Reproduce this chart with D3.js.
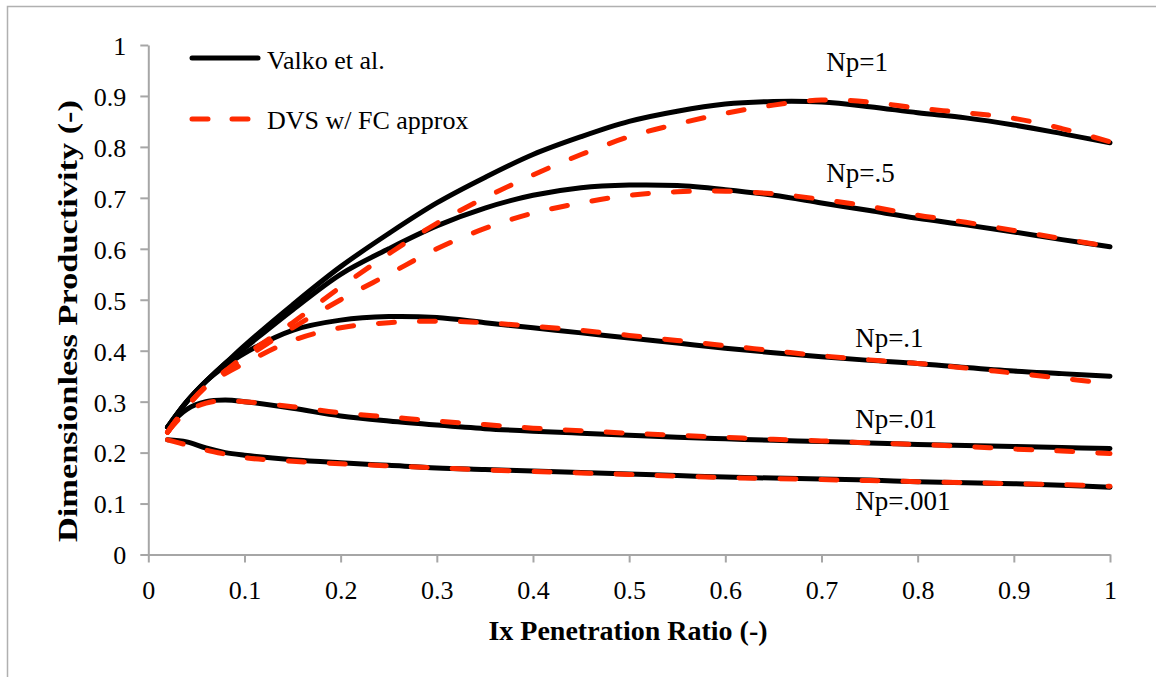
<!DOCTYPE html>
<html>
<head>
<meta charset="utf-8">
<script src="https://cdn.jsdelivr.net/npm/d3@7"></script>
<style>
  body { margin: 0; background: #fff; }
  text { font-family: "Liberation Serif", "Times New Roman", serif; fill: #000; }
</style>
</head>
<body>
<script>
var svgWidth = 1156;
var svgHeight = 677;

// x values shared by every curve
var xValues = [0.02, 0.04, 0.06, 0.08, 0.1, 0.15, 0.2, 0.25, 0.3, 0.35, 0.4, 0.45, 0.5,
               0.55, 0.6, 0.65, 0.7, 0.75, 0.8, 0.85, 0.9, 0.95, 1.0];

// Valko et al. (solid black)
var valkoNp1   = [0.25, 0.30, 0.34, 0.375, 0.41, 0.49, 0.565, 0.63, 0.69, 0.74, 0.785, 0.82, 0.85,
                  0.87, 0.884, 0.889, 0.888, 0.879, 0.867, 0.857, 0.843, 0.826, 0.808];
var valkoNp05  = [0.25, 0.30, 0.34, 0.375, 0.405, 0.48, 0.55, 0.60, 0.645, 0.68, 0.705, 0.72, 0.725,
                  0.724, 0.716, 0.705, 0.69, 0.675, 0.66, 0.647, 0.633, 0.618, 0.604];
var valkoNp01  = [0.25, 0.30, 0.34, 0.37, 0.395, 0.44, 0.46, 0.467, 0.465, 0.455, 0.445, 0.435, 0.425,
                  0.415, 0.405, 0.396, 0.388, 0.381, 0.375, 0.367, 0.36, 0.355, 0.35];
var valkoNp001 = [0.25, 0.285, 0.30, 0.303, 0.30, 0.287, 0.272, 0.262, 0.254, 0.247, 0.242, 0.238, 0.234,
                  0.23, 0.227, 0.224, 0.222, 0.219, 0.216, 0.214, 0.212, 0.21, 0.208];
var valkoNp0001 = [0.225, 0.221, 0.209, 0.2, 0.195, 0.186, 0.18, 0.175, 0.17, 0.167, 0.164, 0.161, 0.158,
                   0.155, 0.152, 0.15, 0.148, 0.146, 0.143, 0.141, 0.139, 0.136, 0.132];

// DVS w/ FC approx (red dashed)
var dvsNp1   = [0.24, 0.29, 0.33, 0.36, 0.39, 0.455, 0.525, 0.59, 0.65, 0.70, 0.745, 0.785, 0.82,
                0.845, 0.866, 0.882, 0.892, 0.888, 0.876, 0.867, 0.856, 0.836, 0.81];
var dvsNp05  = [0.24, 0.29, 0.33, 0.36, 0.385, 0.445, 0.50, 0.55, 0.60, 0.64, 0.67, 0.69, 0.705,
                0.712, 0.713, 0.708, 0.697, 0.683, 0.666, 0.652, 0.636, 0.62, 0.604];
var dvsNp01  = [0.24, 0.29, 0.33, 0.355, 0.375, 0.42, 0.445, 0.455, 0.458, 0.455, 0.448, 0.44, 0.43,
                0.42, 0.41, 0.4, 0.39, 0.382, 0.375, 0.366, 0.356, 0.346, 0.335];
var dvsNp001 = [0.24, 0.28, 0.297, 0.302, 0.30, 0.29, 0.278, 0.27, 0.262, 0.255, 0.248, 0.243, 0.238,
                0.234, 0.23, 0.226, 0.223, 0.219, 0.216, 0.212, 0.207, 0.203, 0.198];
var dvsNp0001 = [0.225, 0.215, 0.205, 0.197, 0.19, 0.183, 0.178, 0.174, 0.17, 0.166, 0.163, 0.16, 0.157,
                 0.154, 0.151, 0.149, 0.147, 0.145, 0.143, 0.141, 0.139, 0.137, 0.134];

var valkoSeries = [valkoNp1, valkoNp05, valkoNp01, valkoNp001, valkoNp0001];
var dvsSeries = [dvsNp1, dvsNp05, dvsNp01, dvsNp001, dvsNp0001];

// curve labels and where they sit (in data units)
var curveLabels = ["Np=1", "Np=.5", "Np=.1", "Np=.01", "Np=.001"];
var labelX = [0.705, 0.705, 0.735, 0.735, 0.735];
var labelY = [0.948, 0.732, 0.407, 0.248, 0.087];

var legendNames = ["Valko et al.", "DVS w/ FC approx"];

var xTicks = [0, 0.1, 0.2, 0.3, 0.4, 0.5, 0.6, 0.7, 0.8, 0.9, 1];
var yTicks = [0, 0.1, 0.2, 0.3, 0.4, 0.5, 0.6, 0.7, 0.8, 0.9, 1];

var axisColor = "#a6a6a6";
var redColor = "#ff2a00";

var xScale = d3.scaleLinear().domain([0, 1]).range([148.3, 1110]);
var yScale = d3.scaleLinear().domain([0, 1]).range([554.5, 45]);

var svg = d3.select("body")
    .append("svg")
    .attr("width", svgWidth)
    .attr("height", svgHeight);

// outer chart border (only left and top are visible)
svg.append("rect")
    .attr("x", 7.5)
    .attr("y", 6.5)
    .attr("width", 1180)
    .attr("height", 700)
    .attr("fill", "none")
    .attr("stroke", "#b0b0b0")
    .attr("stroke-width", 1.5);

var fmt = d3.format("~g");

var xAxis = svg.append("g")
    .attr("transform", "translate(0," + yScale(0) + ")")
    .call(d3.axisBottom(xScale).tickValues(xTicks).tickFormat(fmt).tickSize(8).tickSizeOuter(0).tickPadding(16));

var yAxis = svg.append("g")
    .attr("transform", "translate(" + xScale(0) + ",0)")
    .call(d3.axisLeft(yScale).tickValues(yTicks).tickFormat(fmt).tickSize(8).tickSizeOuter(0).tickPadding(14));

[xAxis, yAxis].forEach(function(ax) {
    ax.selectAll("path, line").attr("stroke", axisColor).attr("stroke-width", 2);
    ax.selectAll("text")
        .style("font-family", "'Liberation Serif', serif")
        .style("font-size", "26px")
        .attr("fill", "#000");
});
yAxis.selectAll("text").attr("dy", "0.36em");
xAxis.selectAll("text").attr("dy", "0.8em");

var line = d3.line()
    .x(function(d, i) { return xScale(xValues[i]); })
    .y(function(d) { return yScale(d); })
    .curve(d3.curveCatmullRom.alpha(0.5));

svg.selectAll(".valko")
    .data(valkoSeries).enter()
    .append("path")
    .attr("class", "valko")
    .attr("d", line)
    .attr("fill", "none")
    .attr("stroke", "#000")
    .attr("stroke-width", 5)
    .attr("stroke-linecap", "round");

svg.selectAll(".dvs")
    .data(dvsSeries).enter()
    .append("path")
    .attr("class", "dvs")
    .attr("d", line)
    .attr("fill", "none")
    .attr("stroke", redColor)
    .attr("stroke-width", 5)
    .attr("stroke-dasharray", "16,25")
    .attr("stroke-linecap", "round");

svg.selectAll(".curveLabel")
    .data(curveLabels).enter()
    .append("text")
    .attr("class", "curveLabel")
    .attr("x", function(d, i) { return xScale(labelX[i]); })
    .attr("y", function(d, i) { return yScale(labelY[i]); })
    .style("font-size", "27px")
    .text(function(d) { return d; });

// legend
var legend = svg.append("g");
legend.append("line")
    .attr("x1", 192).attr("y1", 58).attr("x2", 258).attr("y2", 58)
    .attr("stroke", "#000").attr("stroke-width", 5).attr("stroke-linecap", "round");
legend.append("line")
    .attr("x1", 192).attr("y1", 119).attr("x2", 258).attr("y2", 119)
    .attr("stroke", redColor).attr("stroke-width", 5)
    .attr("stroke-dasharray", "16,24").attr("stroke-linecap", "round");
legend.selectAll("text")
    .data(legendNames).enter()
    .append("text")
    .attr("x", 267)
    .attr("y", function(d, i) { return 69 + i * 60; })
    .style("font-size", "26px")
    .text(function(d) { return d; });

// axis titles
svg.append("text")
    .attr("x", 628)
    .attr("y", 640)
    .attr("text-anchor", "middle")
    .style("font-size", "28px")
    .style("font-weight", "bold")
    .text("Ix Penetration Ratio (-)");

svg.append("text")
    .attr("transform", "translate(77,321) rotate(-90)")
    .attr("text-anchor", "middle")
    .attr("textLength", 442)
    .attr("lengthAdjust", "spacingAndGlyphs")
    .style("font-size", "28px")
    .style("font-weight", "bold")
    .text("Dimensionless Productivity (-)");
</script>
</body>
</html>
